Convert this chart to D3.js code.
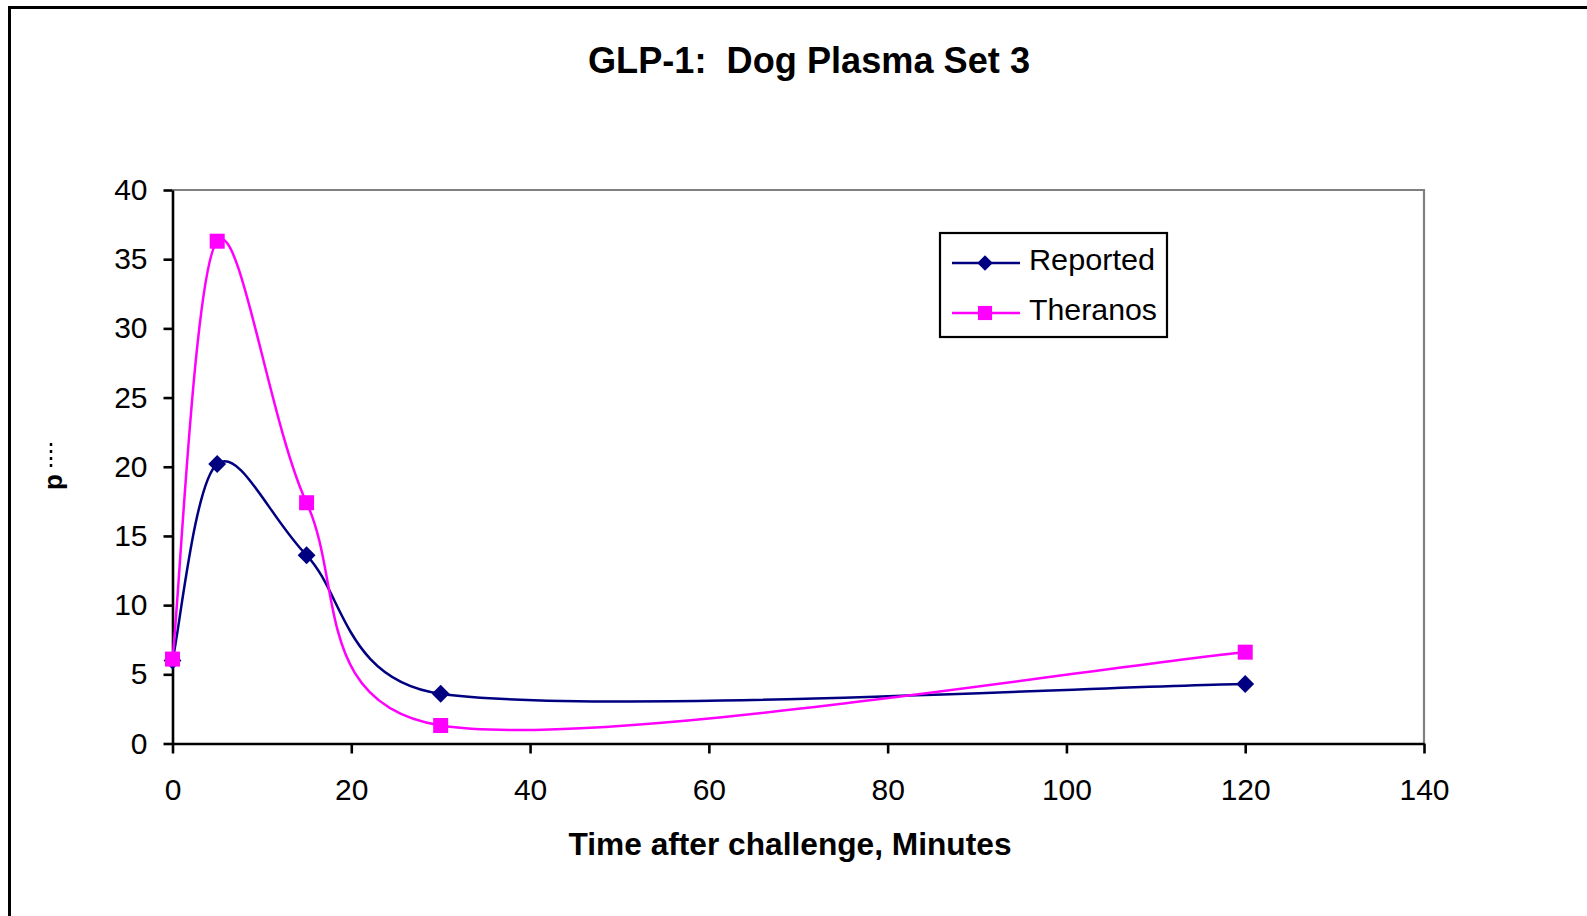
<!DOCTYPE html>
<html>
<head>
<meta charset="utf-8">
<script src="https://cdn.jsdelivr.net/npm/d3@7"></script>
<style>
  body { margin: 0; background: #fff; }
  text { font-family: "Liberation Sans", Arial, sans-serif; fill: #000; white-space: pre; }
</style>
</head>
<body>
<div class="chart"></div>
<script>
// data
const minutes = [0, 5, 15, 30, 120];
const reported = [6.0, 20.2, 13.6, 3.6, 4.3];
const theranos = [6.1, 36.3, 17.4, 1.3, 6.6];
const xTicks = [0, 20, 40, 60, 80, 100, 120, 140];
const yTicks = [0, 5, 10, 15, 20, 25, 30, 35, 40];
const seriesNames = ["Reported", "Theranos"];
const seriesColors = ["#000080", "#ff00ff"];

const W = 1587, H = 916;
const plot = { left: 172.5, right: 1424, top: 190, bottom: 743.5 };

let svg = d3.select(".chart")
  .append("svg")
    .attr("width", W)
    .attr("height", H);

// outer frame (right/bottom run off the picture)
svg.append("rect")
  .attr("x", 9.5).attr("y", 7.5)
  .attr("width", 1700).attr("height", 1000)
  .attr("fill", "none").attr("stroke", "#000").attr("stroke-width", 3);

let x = d3.scaleLinear().domain([0, 140]).range([plot.left, plot.right]);
let y = d3.scaleLinear().domain([0, 40]).range([plot.bottom, plot.top]);

// gray plot frame top/right
svg.append("path")
  .attr("d", `M${plot.left},${plot.top}H${plot.right}V${plot.bottom}`)
  .attr("fill", "none").attr("stroke", "#808080").attr("stroke-width", 2.2);

let yAxis = d3.axisLeft(y).tickValues(yTicks).tickSize(9).tickPadding(16).tickSizeOuter(0);
let gy = svg.append("g").attr("transform", `translate(${plot.left},0)`).call(yAxis);

let xAxis = d3.axisBottom(x).tickValues(xTicks).tickSize(10).tickPadding(25).tickSizeOuter(0);
let gx = svg.append("g").attr("transform", `translate(0,${plot.bottom})`).call(xAxis);

[gx, gy].forEach(g => {
  g.select(".domain").attr("stroke", "#000").attr("stroke-width", 2.6);
  g.selectAll(".tick line").attr("stroke", "#000").attr("stroke-width", 2.6);
  g.selectAll(".tick text")
    .attr("font-size", 30)
    .attr("font-family", '"Liberation Sans", Arial, sans-serif')
    .attr("fill", "#000");
});

// titles
svg.append("text")
  .attr("x", 809).attr("y", 73)
  .attr("text-anchor", "middle")
  .attr("font-size", 36).attr("font-weight", "bold")
  .attr("textLength", 442).attr("lengthAdjust", "spacingAndGlyphs")
  .text("GLP-1:  Dog Plasma Set 3");

svg.append("text")
  .attr("x", 790).attr("y", 855)
  .attr("text-anchor", "middle")
  .attr("font-size", 31).attr("font-weight", "bold")
  .attr("textLength", 443).attr("lengthAdjust", "spacingAndGlyphs")
  .text("Time after challenge, Minutes");

// clipped y axis title remnant
svg.append("line")
  .attr("x1", 51).attr("x2", 51).attr("y1", 443).attr("y2", 470)
  .attr("stroke", "#000").attr("stroke-width", 2.5).attr("stroke-dasharray", "3,4");
svg.append("text")
  .attr("transform", "translate(62,490) rotate(-90)")
  .attr("font-size", 26).attr("font-weight", "bold")
  .text("p");

// Excel-style smoothed line: Catmull-Rom control points, clamped to half the segment
function smoothPath(values) {
  let pts = values.map((v, i) => [x(minutes[i]), y(v)]);
  let dist = (a, b) => Math.hypot(b[0] - a[0], b[1] - a[1]);
  let p = d3.path();
  p.moveTo(pts[0][0], pts[0][1]);
  for (let i = 0; i < pts.length - 1; i++) {
    let p0 = pts[Math.max(i - 1, 0)], p1 = pts[i], p2 = pts[i + 1], p3 = pts[Math.min(i + 2, pts.length - 1)];
    let d12 = dist(p1, p2), d02 = dist(p0, p2), d13 = dist(p1, p3);
    let f1 = d02 / 6 < d12 / 2 ? 1 / 6 : d12 / (2 * d02);
    let f2 = d13 / 6 < d12 / 2 ? 1 / 6 : d12 / (2 * d13);
    p.bezierCurveTo(
      p1[0] + f1 * (p2[0] - p0[0]), p1[1] + f1 * (p2[1] - p0[1]),
      p2[0] - f2 * (p3[0] - p1[0]), p2[1] - f2 * (p3[1] - p1[1]),
      p2[0], p2[1]);
  }
  return p.toString();
}

let diamond = d3.symbol().type(d3.symbolSquare).size(160);
let square = d3.symbol().type(d3.symbolSquare).size(225);

function drawSeries(values, color, isDiamond) {
  svg.append("path")
    .attr("d", smoothPath(values))
    .attr("fill", "none")
    .attr("stroke", color)
    .attr("stroke-width", 2.5);
  svg.selectAll(null)
    .data(values)
    .enter()
    .append("path")
    .attr("d", isDiamond ? diamond : square)
    .attr("transform", (d, i) => `translate(${x(minutes[i])},${y(d)})` + (isDiamond ? " rotate(45)" : ""))
    .attr("fill", color);
}

drawSeries(reported, seriesColors[0], true);
drawSeries(theranos, seriesColors[1], false);

// legend
let legend = svg.append("g");
legend.append("rect")
  .attr("x", 940).attr("y", 233)
  .attr("width", 227).attr("height", 104)
  .attr("fill", "#fff").attr("stroke", "#000").attr("stroke-width", 2.2);

let legendWidths = [126, 128];
seriesNames.forEach((name, i) => {
  let ry = 263 + i * 50;
  legend.append("line")
    .attr("x1", 952).attr("x2", 1020).attr("y1", ry).attr("y2", ry)
    .attr("stroke", seriesColors[i]).attr("stroke-width", 2.5);
  legend.append("path")
    .attr("d", i === 0 ? d3.symbol().type(d3.symbolSquare).size(120)() : d3.symbol().type(d3.symbolSquare).size(200)())
    .attr("transform", `translate(985,${ry})` + (i === 0 ? " rotate(45)" : ""))
    .attr("fill", seriesColors[i]);
  legend.append("text")
    .attr("x", 1029).attr("y", ry + 7)
    .attr("font-size", 30)
    .attr("textLength", legendWidths[i]).attr("lengthAdjust", "spacingAndGlyphs")
    .text(name);
});
</script>
</body>
</html>
